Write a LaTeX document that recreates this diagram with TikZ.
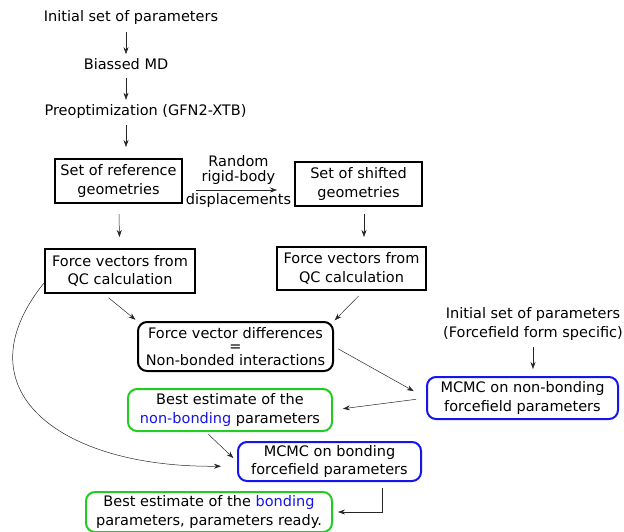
\documentclass[tikz,border=0pt]{standalone}
\usepackage{fontspec}
\setmainfont{DejaVu Sans}
\usetikzlibrary{arrows.meta}
\definecolor{bestgreen}{RGB}{34,204,34}
\definecolor{mcmcblue}{RGB}{20,20,235}

\begin{document}
\begin{tikzpicture}[x=1pt,y=-1pt,
    font=\fontsize{14.5}{18.5}\selectfont,
    txt/.style={inner sep=4pt,align=center},
    sqbox/.style={draw,line width=2pt,inner sep=0pt,align=center},
    rbox/.style={draw,line width=2pt,rounded corners=9pt,inner sep=0pt,align=center},
    arr/.style={-{Stealth[length=7pt,width=5pt]},line width=0.5pt,black!85}]
            \useasboundingbox (0,0) rectangle (624,531);
            \node[txt] (init) at (131,17.5) {Initial set of parameters};
            \node[txt] (md) at (126,64) {Biassed MD};
            \node[txt] (preopt) at (145.5,111) {Preoptimization (GFN2-XTB)};
            \node[sqbox,minimum width=127pt,minimum height=44pt] (ref) at (118.5,181) {Set of reference\\geometries};
            \node[sqbox,minimum width=127pt,minimum height=44pt] (shift) at (358.5,184) {Set of shifted\\geometries};
            \node[sqbox,minimum width=150pt,minimum height=44pt] (fl) at (120,271) {Force vectors from\\QC calculation};
            \node[sqbox,minimum width=149pt,minimum height=43pt] (fr) at (351.5,268.5) {Force vectors from\\QC calculation};
            \node[rbox,minimum width=195pt,minimum height=49pt] (diff) at (235.5,346.5) {Force vector differences\\[-5pt]=\\[-5pt]Non-bonded interactions};
            \node[txt] (init2) at (533,324) {Initial set of parameters\\(Forcefield form specific)};
            \node[rbox,draw=mcmcblue,minimum width=191pt,minimum height=42pt] (mcmc1) at (522.5,398) {MCMC on non-bonding\\forcefield parameters};
            \node[rbox,draw=bestgreen,minimum width=204pt,minimum height=42pt] (best1) at (230,410) {Best estimate of the\\\textcolor{mcmcblue}{non-bonding} parameters};
            \node[rbox,draw=mcmcblue,minimum width=183pt,minimum height=39pt] (mcmc2) at (329.5,461.5) {MCMC on bonding\\forcefield parameters};
            \node[rbox,draw=bestgreen,minimum width=246pt,minimum height=40pt] (best2) at (209,512) {Best estimate of the \textcolor{mcmcblue}{bonding}\\parameters, parameters ready.};
            \draw[arr,shorten <=3.5pt] (md.north |- init.south) -- (md.north);
            \draw[arr,shorten <=4.5pt] (md.south) -- (md.south |- preopt.north);
            \draw[arr,shorten <=3pt,shorten >=11pt] (md.south |- preopt.south) -- (md.south |- ref.north);
            \draw[arr,shorten <=13pt,shorten >=17pt] ([yshift=-9pt]ref.east) -- ([yshift=-6pt]shift.west)
                node[midway,above,align=center,inner sep=5pt,black] {Random\\[-3.5pt]rigid-body}
                node[midway,below,inner sep=3.5pt,black] {displacements};
            \draw[arr,shorten <=10pt,shorten >=11pt] (ref) -- (fl);
            \draw[arr,shorten <=7pt,shorten >=9pt] ([xshift=5.5pt]shift.south) -- ([xshift=12.5pt]fr.north);
            \draw[arr,shorten <=6pt,shorten >=2pt] ([xshift=-16pt]fl.south) -- (diff.north west);
            \draw[arr,shorten <=7pt,shorten >=1pt] ([xshift=12pt]fr.south) -- (diff.north east);
            \draw[arr,shorten <=5pt,shorten >=14pt] (diff.east) -- (mcmc1.west);
            \draw[arr,shorten <=2.5pt,shorten >=7pt] (init2.south) -- (init2.south |- mcmc1.north);
            \draw[arr,shorten <=10pt,shorten >=10pt] (mcmc1.west) -- (best1.east);
            \draw[arr,shorten <=3pt,shorten >=5pt] ([xshift=-24pt]best1.south) -- (mcmc2.west);
            \draw[arr,shorten >=16pt] ([yshift=-12pt]fl.west) .. controls (-42,390) and (60,468) .. ([yshift=-4.5pt]mcmc2.west);
            \draw[arr,shorten <=6pt,shorten >=5pt] ([xshift=52.5pt]mcmc2.south) |- (best2.east);
\end{tikzpicture}
\end{document}
